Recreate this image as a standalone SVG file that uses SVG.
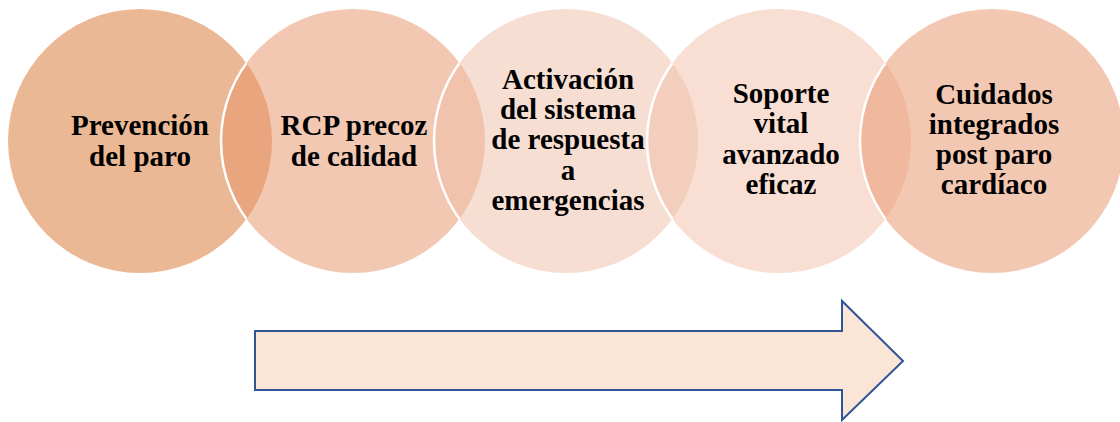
<svg xmlns="http://www.w3.org/2000/svg" width="1120" height="422" viewBox="0 0 1120 422">
<style>
.t{font-family:"Liberation Serif","Times New Roman",serif;font-weight:bold;font-size:29px;fill:#000;text-anchor:middle}
.edge{fill:none;stroke:#fff;stroke-width:2.5}
</style>
<defs>
<clipPath id="k1"><circle cx="140" cy="141" r="132"/></clipPath>
<clipPath id="k2"><circle cx="353" cy="141" r="132"/></clipPath>
<clipPath id="k3"><circle cx="566" cy="141" r="132"/></clipPath>
<clipPath id="k4"><circle cx="779" cy="141" r="132"/></clipPath>
</defs>
<rect width="1120" height="422" fill="#fff"/>
<g id="circles">
<circle id="c1" cx="140" cy="141" r="132" fill="#EBB895"/>
<circle id="c2" cx="353" cy="141" r="132" fill="#E59167" fill-opacity="0.5"/>
<circle id="c3" cx="566" cy="141" r="132" fill="#EFBDA7" fill-opacity="0.5"/>
<circle id="c4" cx="779" cy="141" r="132" fill="#F1BDA7" fill-opacity="0.5"/>
<circle id="c5" cx="992" cy="141" r="132" fill="#E79165" fill-opacity="0.5"/>
</g>
<g id="edges">
<circle class="edge" cx="353" cy="141" r="132" clip-path="url(#k1)"/>
<circle class="edge" cx="566" cy="141" r="132" clip-path="url(#k2)"/>
<circle class="edge" cx="779" cy="141" r="132" clip-path="url(#k3)"/>
<circle class="edge" cx="992" cy="141" r="132" clip-path="url(#k4)"/>
</g>
<g id="n1">
<text class="t" x="140" y="135">Prevención</text>
<text class="t" x="140" y="166">del paro</text>
</g>
<g id="n2">
<text class="t" x="354" y="135">RCP precoz</text>
<text class="t" x="354" y="166">de calidad</text>
</g>
<g id="n3">
<text class="t" x="568" y="89">Activación</text>
<text class="t" x="568" y="119">del sistema</text>
<text class="t" x="568" y="149">de respuesta</text>
<text class="t" x="568" y="180">a</text>
<text class="t" x="568" y="210">emergencias</text>
</g>
<g id="n4">
<text class="t" x="781" y="103">Soporte</text>
<text class="t" x="781" y="133">vital</text>
<text class="t" x="781" y="164">avanzado</text>
<text class="t" x="781" y="194">eficaz</text>
</g>
<g id="n5">
<text class="t" x="994" y="104">Cuidados</text>
<text class="t" x="994" y="134">integrados</text>
<text class="t" x="994" y="164">post paro</text>
<text class="t" x="994" y="194">cardíaco</text>
</g>
<g id="arrow">
<path d="M255,331 L842,331 L842,301 L903,361 L842,420 L842,390 L255,390 Z" fill="#FBE5D6" stroke="#2F5597" stroke-width="2"/>
</g>
</svg>
